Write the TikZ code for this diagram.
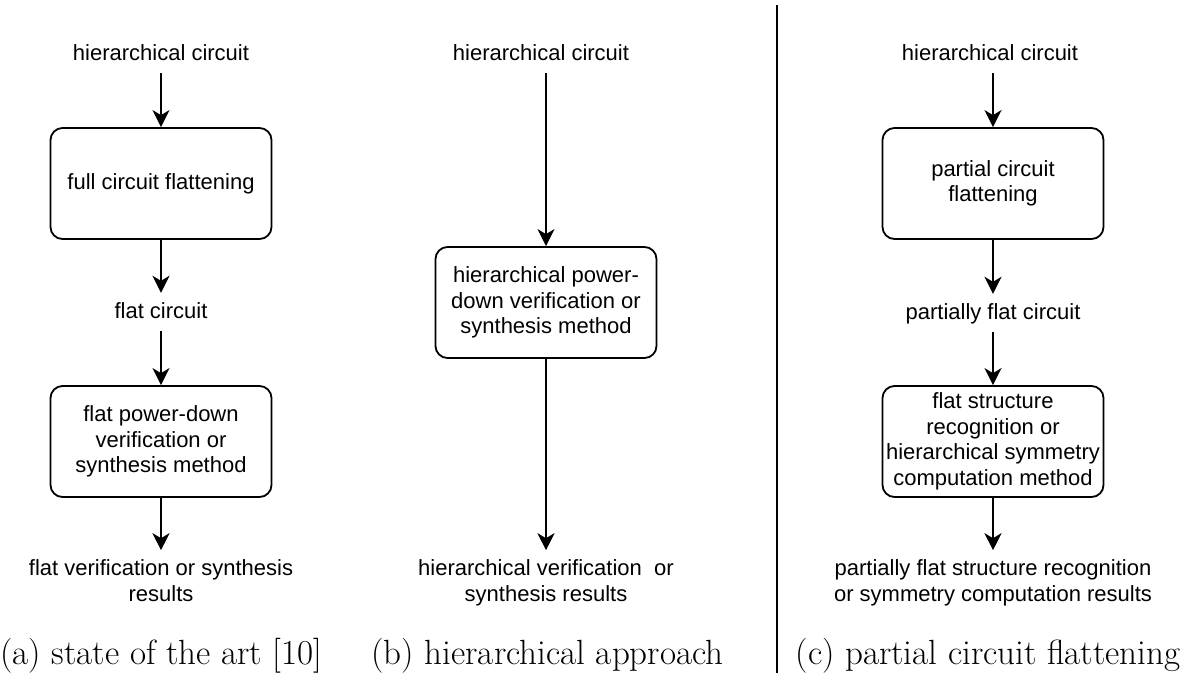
\documentclass[tikz,border=0pt]{standalone}
\usepackage{fontspec}
\newfontfamily\arialf{Liberation Sans}
\usetikzlibrary{arrows.meta}
\begin{document}
\begin{tikzpicture}[x=1pt,y=-1pt,
  lbl/.style={font=\arialf\fontsize{22}{25.5}\selectfont, inner sep=0pt, text height=16pt, text depth=5pt},
  res/.style={font=\arialf\fontsize{22}{25.5}\selectfont, inner sep=0pt, align=center, anchor=north},
  stepbox/.style={draw, line width=1.8pt, rounded corners=12pt, minimum width=221pt, minimum height=111pt,
    inner sep=0pt, align=center, font=\arialf\fontsize{22}{25.5}\selectfont},
  flowarrow/.style={draw=black, line width=2.2pt, -{Stealth[length=17pt, width=17pt, inset=5pt]}},
  captxt/.style={font=\fontsize{35}{40}\selectfont, inner sep=0pt, anchor=base}]
\useasboundingbox (0,0) rectangle (1191,673);

% (a)
\node[lbl] (ha) at (161,55) {hierarchical circuit};
\node[stepbox] (fa) at (161,183.5) {full circuit flattening};
\node[lbl] (fc) at (161,313) {flat circuit};
\node[stepbox] (fb) at (161,441.5) {flat power-down\\verification or\\synthesis method};
\node[res] (ra) at (161,559.7) {flat verification or synthesis\\results};
\node[captxt] (capa) at (161.5,664) {(a) state of the art [10]};
\path[flowarrow, shorten <=7.5pt] (ha.south -| fa.north) -- (fa.north);
\path[flowarrow, shorten >=9.5pt] (fa.south) -- (fa.south |- fc.north);
\path[flowarrow, shorten <=7.5pt] (fc.south -| fb.north) -- (fb.north);
\path[flowarrow, shorten >=9.5pt] (fb.south) -- (fb.south |- ra.north);

% (b)
\node[lbl] (hb) at (541,55) {hierarchical circuit};
\node[stepbox] (bb) at (546,302.5) {hierarchical power-\\down verification or\\synthesis method};
\node[res] (rb) at (546,559.7) {hierarchical verification\ \ or\\synthesis results};
\node[captxt] (capb) at (547.5,664) {(b) hierarchical approach};
\path[flowarrow, shorten <=7.5pt] (hb.south -| bb.north) -- (bb.north);
\path[flowarrow, shorten >=9.5pt] (bb.south) -- (bb.south |- rb.north);

% separator
\coordinate (sept) at (777,5);
\coordinate (sepb) at (777,673);
\draw[line width=1.2pt] (sept) -- (sepb);

% (c)
\node[lbl] (hc) at (990,55) {hierarchical circuit};
\node[stepbox] (ca) at (993,183.5) {partial circuit\\flattening};
\node[lbl] (pc) at (993,314) {partially flat circuit};
\node[stepbox] (cb) at (993,441.5) {flat structure\\recognition or\\hierarchical symmetry\\computation method};
\node[res] (rc) at (993,559.7) {partially flat structure recognition\\or symmetry computation results};
\node[captxt] (capc) at (988,664) {(c) partial circuit flattening};
\path[flowarrow, shorten <=7.5pt] (hc.south -| ca.north) -- (ca.north);
\path[flowarrow, shorten >=9.5pt] (ca.south) -- (ca.south |- pc.north);
\path[flowarrow, shorten <=7.5pt] (pc.south -| cb.north) -- (cb.north);
\path[flowarrow, shorten >=9.5pt] (cb.south) -- (cb.south |- rc.north);
\end{tikzpicture}
\end{document}
